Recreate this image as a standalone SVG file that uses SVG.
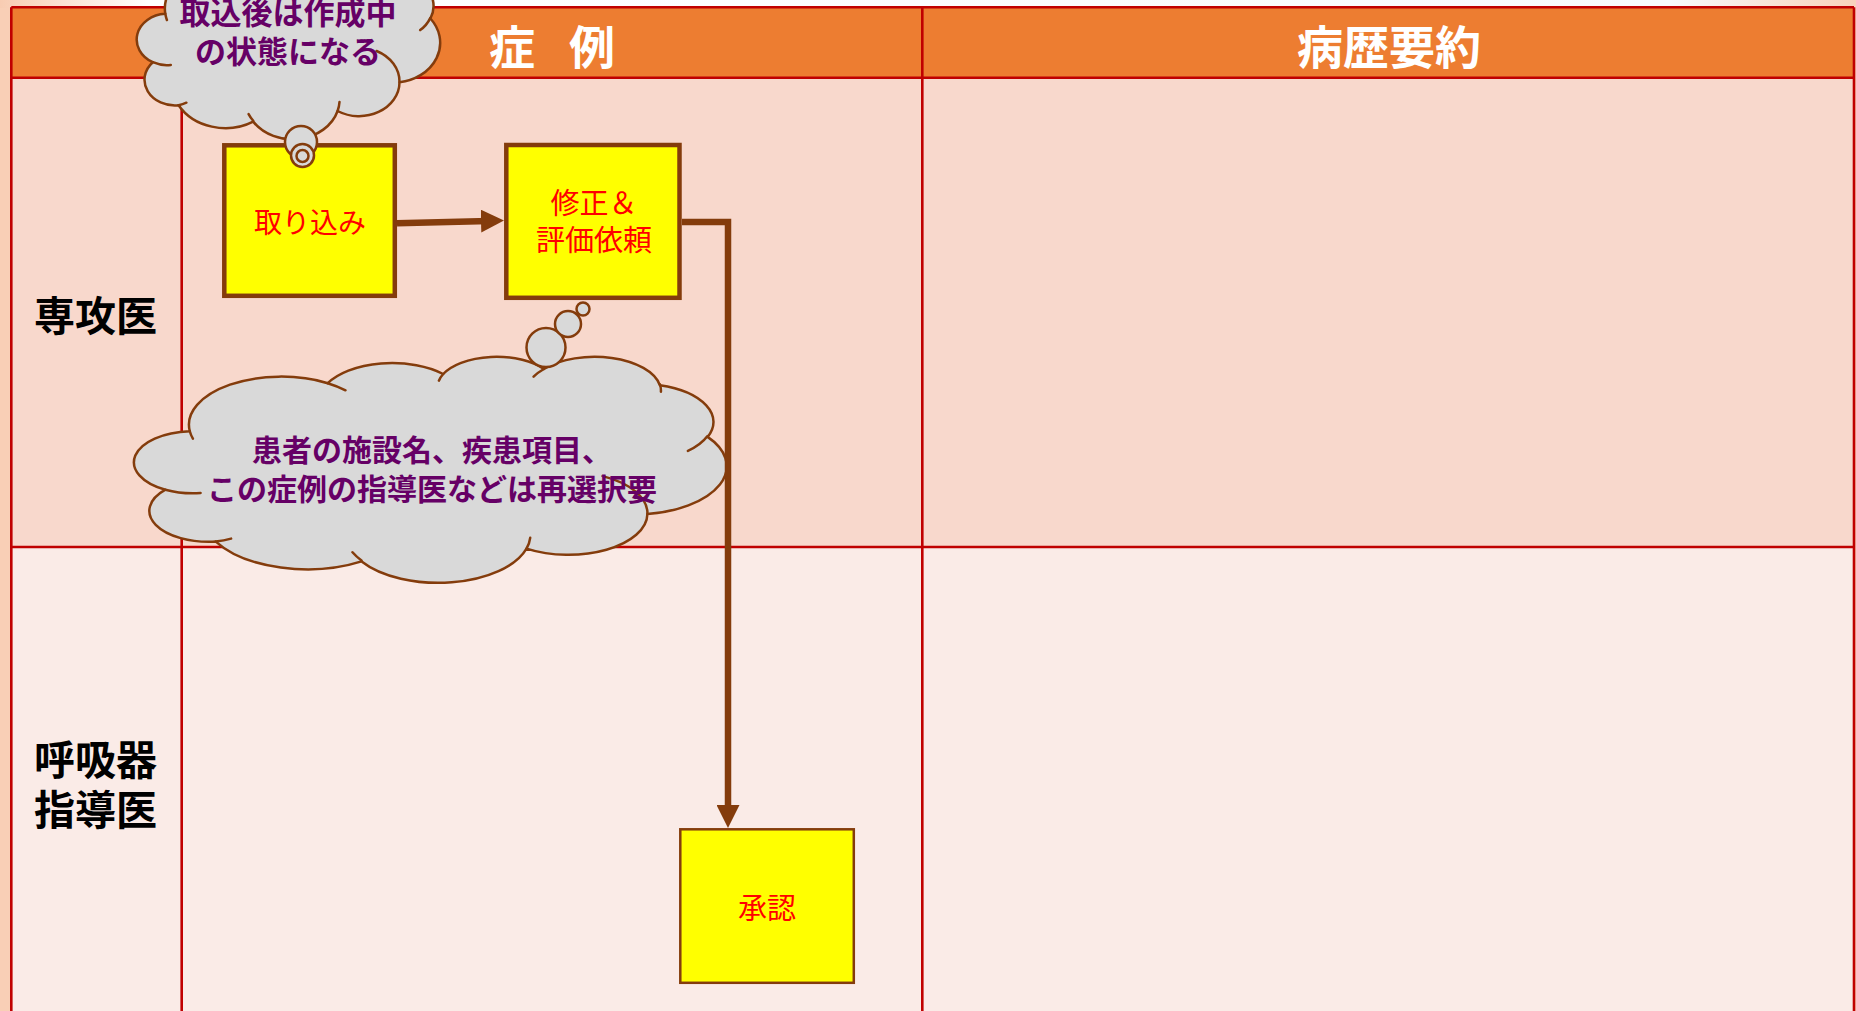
<svg xmlns="http://www.w3.org/2000/svg" width="1856" height="1011" viewBox="0 0 1856 1011">
  <defs>
    <linearGradient id="topStrip" x1="0" y1="0" x2="1856" y2="0" gradientUnits="userSpaceOnUse">
      <stop offset="0" stop-color="#F8CCB2"/>
      <stop offset="0.08" stop-color="#FFFFFF"/>
      <stop offset="0.9" stop-color="#F7FAFD"/>
      <stop offset="1" stop-color="#F8D2BB"/>
    </linearGradient>
    <marker id="arrow" markerUnits="userSpaceOnUse" viewBox="0 0 23 23" markerWidth="23" markerHeight="23" refX="8" refY="11.5" orient="auto">
      <path d="M0,0 L23,11.5 L0,23 z" fill="#843C0C"/>
    </marker>
    <style>
      .grid { stroke: #C00000; stroke-width: 2.6; fill: none; }
      .box { fill: #FFFF00; stroke: #843C0C; }
      .boxtext { font-family: "Noto Sans CJK JP", "Noto Sans", sans-serif; fill: #FF0000; text-anchor: middle; }
      .head { font-family: "Noto Sans CJK JP", "Noto Sans", sans-serif; font-weight: 700; font-size: 46px; fill: #FFFFFF; }
      .lane { font-family: "Noto Sans CJK JP", "Noto Sans", sans-serif; font-weight: 700; font-size: 41px; fill: #000000; }
      .cloud { fill: #D9D9D9; stroke: #843C0C; stroke-width: 2.5; stroke-linejoin: round; }
      .crease { fill: none; stroke: #843C0C; stroke-width: 2.5; stroke-linecap: round; }
      .cloudtext { font-family: "Noto Sans CJK JP", "Noto Sans", sans-serif; font-weight: 700; fill: #660066; text-anchor: middle; }
      .flow { fill: none; stroke: #843C0C; stroke-width: 6.5; stroke-linejoin: miter; marker-end: url(#arrow); }
    </style>
  </defs>

  <!-- page background -->
  <rect x="0" y="0" width="1856" height="1011" fill="#F9CFB6"/>
  <rect x="0" y="0" width="1856" height="8" fill="url(#topStrip)"/>

  <!-- swimlane table -->
  <g id="table">
    <rect x="11" y="7.3" width="1843" height="70.4" fill="#ED7D31"/>
    <rect x="11" y="77.7" width="1843" height="469.3" fill="#F8D8CC"/>
    <rect x="11" y="547" width="1843" height="464" fill="#FAEBE7"/>
    <path class="grid" d="M11.3 7.3 H1854 M11.3 77.7 H1854 M11.3 547 H1854 M11.3 7.3 V1011 M181.7 7.3 V1011 M922.3 7.3 V1011 M1854 7.3 V1011"/>
    <text class="head" x="489" y="64.2" letter-spacing="-6">症　例</text>
    <text class="head" x="1389" y="64.2" text-anchor="middle">病歴要約</text>
    <text class="lane" x="34" y="331">専攻医</text>
    <text class="lane" x="34" y="775">呼吸器</text>
    <text class="lane" x="34" y="825">指導医</text>
  </g>

  <!-- process boxes -->
  <g id="node-import">
    <rect class="box" x="224.3" y="145.3" width="170.5" height="150.5" stroke-width="4.5"/>
    <text class="boxtext" x="310" y="232.6" font-size="28">取り込み</text>
  </g>
  <g id="node-revise">
    <rect class="box" x="506.3" y="145" width="173.2" height="152.8" stroke-width="4.5"/>
    <text class="boxtext" x="594" y="214" font-size="29">修正＆</text>
    <text class="boxtext" x="594" y="251" font-size="29">評価依頼</text>
  </g>
  <g id="node-approve">
    <rect class="box" x="680.3" y="829.3" width="173.5" height="153.5" stroke-width="2.5"/>
    <text class="boxtext" x="767" y="918.5" font-size="29">承認</text>
  </g>

  <!-- thought cloud: re-selection note -->
  <g id="note-reselect">
    <path class="cloud" d="M189.8 431.2 A92.23 48.08 0 0 1 327.8 383.2 A72.83 38.02 0 0 1 443.2 374.0 A59.61 31.10 0 0 1 543.9 369.0 A66.33 34.50 0 0 1 659.8 385.2 A72.83 38.05 0 0 1 707.6 436.9 A92.53 48.23 0 0 1 647.4 514.0 A79.01 41.16 0 0 1 526.5 548.6 A92.21 48.21 0 0 1 361.6 561.4 A105.43 55.16 0 0 1 215.8 541.6 A59.54 30.96 0 0 1 165.4 489.7 A59.34 31.10 0 0 1 189.8 431.2 Z"/>
    <path class="crease" d="M200.6 493.0 A59.34 31.10 0 0 1 165.4 489.7 M231.1 538.6 A59.54 30.96 0 0 1 215.8 541.6 M361.5 560.5 A92.21 48.21 0 0 1 352.5 552.3 M530.2 537.8 A92.21 48.21 0 0 1 526.5 548.6 M602.6 476.1 A79.01 41.16 0 0 1 647.4 514.0 M707.3 436.3 A72.83 38.05 0 0 1 687.9 450.9 M659.9 384.4 A66.33 34.50 0 0 1 660.9 391.8 M533.6 376.7 A66.33 34.50 0 0 1 543.9 369.0 M438.9 380.7 A59.61 31.10 0 0 1 443.2 374.0 M327.7 383.2 A92.23 48.08 0 0 1 345.5 390.3 M192.9 438.6 A92.23 48.08 0 0 1 189.8 431.2"/>
    <circle class="cloud" cx="546" cy="347.5" r="19.5"/>
    <circle class="cloud" cx="568" cy="324" r="13"/>
    <circle class="cloud" cx="583" cy="309" r="6.5"/>
    <text class="cloudtext" x="432" y="461.4" font-size="30">患者の施設名、疾患項目、</text>
    <text class="cloudtext" x="432" y="499.7" font-size="30">この症例の指導医などは再選択要</text>
  </g>

  <!-- thought cloud: draft state note -->
  <g id="note-draft">
    <path class="cloud" d="M165.3 13.8 A47.21 39.78 0 0 1 235.9 -25.9 A37.28 31.46 0 0 1 295.0 -33.5 A30.51 25.73 0 0 1 346.6 -37.7 A33.95 28.55 0 0 1 405.9 -24.3 A37.28 31.48 0 0 1 430.4 18.5 A47.36 39.91 0 0 1 399.5 82.3 A40.44 34.05 0 0 1 337.6 111.0 A47.20 39.89 0 0 1 253.2 121.6 A53.97 45.64 0 0 1 178.6 105.2 A30.48 25.62 0 0 1 152.8 62.2 A30.37 25.73 0 0 1 165.3 13.8 Z"/>
    <path class="crease" d="M170.8 64.9 A30.37 25.73 0 0 1 152.8 62.2 M186.4 102.7 A30.48 25.62 0 0 1 178.6 105.2 M253.2 120.8 A47.20 39.89 0 0 1 248.6 114.1 M339.5 102.0 A47.20 39.89 0 0 1 337.6 111.0 M376.6 51.0 A40.44 34.05 0 0 1 399.5 82.3 M430.2 18.1 A37.28 31.48 0 0 1 420.2 30.1 M405.9 -24.9 A33.95 28.55 0 0 1 406.4 -18.8 M341.3 -31.3 A33.95 28.55 0 0 1 346.6 -37.7 M292.8 -28.0 A30.51 25.73 0 0 1 295.0 -33.5 M235.9 -25.9 A47.21 39.78 0 0 1 245.0 -20.1 M166.9 20.0 A47.21 39.78 0 0 1 165.3 13.8"/>
    <circle class="cloud" cx="301" cy="142" r="16"/>
    <circle class="cloud" cx="302.5" cy="155.5" r="11.5"/>
    <circle class="cloud" cx="302.5" cy="156" r="6"/>
    <text class="cloudtext" x="288" y="24.3" font-size="31">取込後は作成中</text>
    <text class="cloudtext" x="288" y="62.6" font-size="31">の状態になる</text>
  </g>

  <!-- flow connectors -->
  <g id="connectors">
    <path class="flow" d="M397 223.3 L489 220.9"/>
    <path class="flow" d="M682 222 H728 V813"/>
  </g>
</svg>
